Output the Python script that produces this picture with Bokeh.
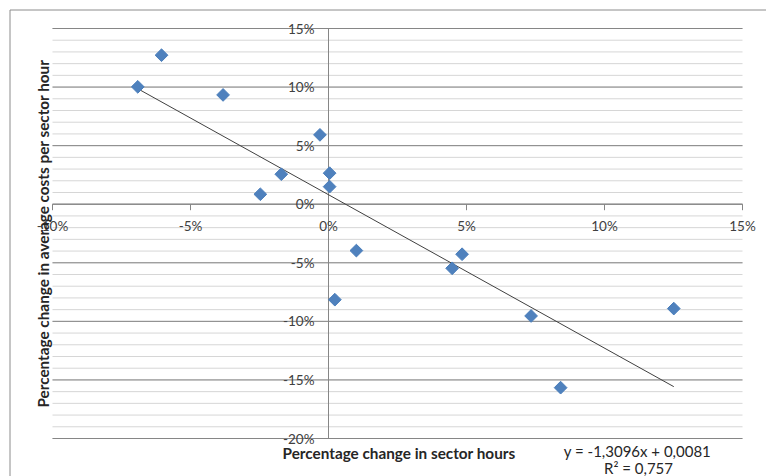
import numpy as np
from bokeh.plotting import figure
from bokeh.models import Range1d
from bokeh.core.properties import value
from bokeh.embed import file_html
from bokeh.resources import INLINE

# Observations: change in sector hours vs change in average cost per sector hour
hours_change = [-0.0691, -0.0605, -0.0382, -0.0031, -0.0171, -0.0247, 0.0004, 0.0004,
                0.0101, 0.0023, 0.0484, 0.0448, 0.0734, 0.0841, 0.1251]
cost_change = [0.1002, 0.1272, 0.0933, 0.0592, 0.0256, 0.0085, 0.0265, 0.0150,
               -0.0396, -0.0815, -0.0427, -0.0547, -0.0954, -0.1566, -0.0891]

# Linear trend fitted to the observations
trend_slope = -1.3096
trend_intercept = 0.0081
r_squared = 0.757

x_ticks = [-0.10, -0.05, 0.0, 0.05, 0.10, 0.15]
y_ticks = [-0.20, -0.15, -0.10, -0.05, 0.0, 0.05, 0.10, 0.15]
y_minor_ticks = [round(v, 2) for v in np.arange(-0.20, 0.1501, 0.01)]
x_tick_labels = [f"{round(v * 100)}%" for v in x_ticks]
y_tick_labels = [f"{round(v * 100)}%" for v in y_ticks]

x_title = "Percentage change in sector hours"
y_title = "Percentage change in average costs per sector hour"

FONT = "Lato"
AXIS_GRAY = "#868686"
TEXT = "#404040"

# Canvas and plot-area geometry (pixels)
W, H = 766, 476
AREA_L, AREA_R, AREA_T, AREA_B = 52, 742, 28, 438
XMIN, XMAX, YMIN, YMAX = -0.10, 0.15, -0.20, 0.15
sx = (AREA_R - AREA_L) / (XMAX - XMIN)   # px per unit
sy = (AREA_B - AREA_T) / (YMAX - YMIN)


def px_x(px):
    return XMIN + (px - AREA_L) / sx


def px_y(py):
    return YMAX - (py - AREA_T) / sy


p = figure(width=W, height=H, output_backend="svg", toolbar_location=None,
           x_range=Range1d(px_x(0), px_x(W)), y_range=Range1d(px_y(H), px_y(0)),
           min_border=0, min_border_left=0, min_border_right=0,
           min_border_top=0, min_border_bottom=0,
           background_fill_color="white", border_fill_color="white",
           outline_line_color=None)
p.xaxis.visible = False
p.yaxis.visible = False
p.xgrid.visible = False
p.ygrid.visible = False

# horizontal gridlines: minor every 1 %, major every 5 %
p.segment(x0=XMIN, x1=XMAX, y0=y_minor_ticks, y1=y_minor_ticks,
          line_color="#d6d6d6", line_width=1)
p.segment(x0=XMIN, x1=XMAX, y0=y_ticks, y1=y_ticks,
          line_color=AXIS_GRAY, line_width=1)

# axes crossing at the origin
p.segment(x0=[0.0], x1=[0.0], y0=[YMIN], y1=[YMAX], line_color=AXIS_GRAY, line_width=1)
p.segment(x0=[XMIN], x1=[XMAX], y0=[0.0], y1=[0.0], line_color=AXIS_GRAY, line_width=1)
p.segment(x0=x_ticks, x1=x_ticks, y0=0.0, y1=-6 / sy, line_color=AXIS_GRAY, line_width=1)

# tick labels
p.text(x=x_ticks, y=px_y(225), text=x_tick_labels, text_align="center",
       text_baseline="middle", text_font=value(FONT), text_font_size="13.5px",
       text_color=TEXT)
p.text(x=px_x(314), y=y_ticks, text=y_tick_labels, text_align="right",
       text_baseline="middle", text_font=value(FONT), text_font_size="13.5px",
       text_color=TEXT)

# trend line across the observed range
x0, x1 = min(hours_change), max(hours_change)
p.line([x0, x1], [trend_slope * x0 + trend_intercept, trend_slope * x1 + trend_intercept],
       line_color="#404040", line_width=1)

p.scatter(hours_change, cost_change, marker="square", angle=np.pi / 4, size=9,
          fill_color="#4F81BD", line_color="#4A7EBB", line_width=1)

# axis titles
p.text(x=[px_x(42)], y=[px_y(233)], text=[y_title], angle=np.pi / 2,
       text_align="center", text_baseline="middle",
       text_font=value(FONT), text_font_style="bold", text_font_size="15.3px",
       text_color="#262626")
p.text(x=[px_x(398.5)], y=[px_y(452)], text=[x_title],
       text_align="center", text_baseline="middle",
       text_font=value(FONT), text_font_style="bold", text_font_size="15.3px",
       text_color="#262626")

# trend equation
eq_text = f"y = {trend_slope:.4f}x + {trend_intercept:.4f}".replace(".", ",")
r2_text = f"R² = {r_squared:.3f}".replace(".", ",")
p.text(x=[px_x(637), px_x(638)], y=[px_y(450), px_y(467)], text=[eq_text, r2_text],
       text_align="center", text_baseline="middle",
       text_font=value(FONT), text_font_size="15px", text_color="#262626")

# chart area border (left and top edges)
p.segment(x0=[px_x(9.5), px_x(9.5)], x1=[px_x(9.5), px_x(W + 5)],
          y0=[px_y(9.5), px_y(9.5)], y1=[px_y(H + 5), px_y(9.5)],
          line_color="#8c8c8c", line_width=1)

open("out.html", "w").write(file_html(p, INLINE))
